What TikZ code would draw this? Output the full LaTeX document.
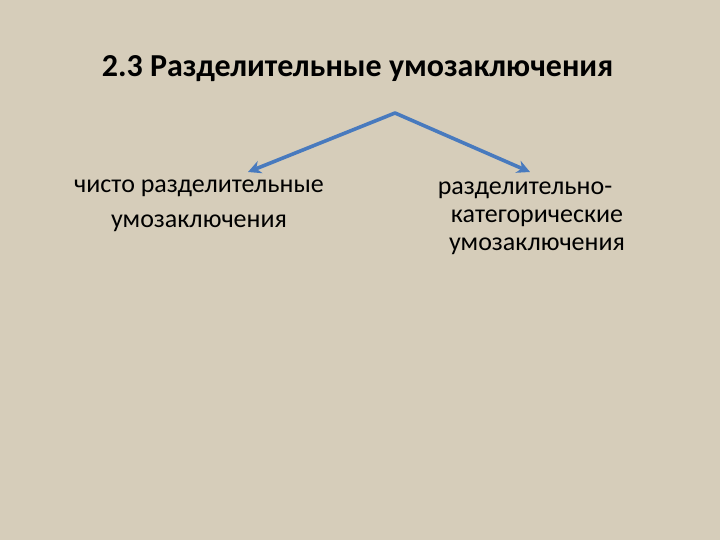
\documentclass[tikz,border=0pt]{standalone}
\usepackage{fontspec}
\setmainfont{Carlito}
\usetikzlibrary{arrows.meta}
\definecolor{canvas}{RGB}{214,205,186}
\definecolor{arrblue}{RGB}{72,122,190}

\begin{document}
\begin{tikzpicture}[x=1pt,y=-1pt,line join=round,line cap=round,>={Stealth[length=13pt,width=13pt]}]
		\fill[canvas] (0,0) rectangle (720,540);
		\useasboundingbox (0,0) rectangle (720,540);
		\node[font=\fontsize{32}{38}\selectfont\bfseries,anchor=base] (title) at (357.5,77) {2.3 Разделительные умозаключения};
		\node[font=\fontsize{26}{35}\selectfont,align=center] (pure) at (199,206) {чисто разделительные\\умозаключения};
		\node[font=\fontsize{26}{28}\selectfont,align=center] (categ) at (537,218) {разделительно-\hspace*{24pt}\\категорические\\умозаключения};
		\coordinate (apex) at (395,113);
		\coordinate (lend) at (248,172);
		\coordinate (rend) at (530,172);
		\draw[->,arrblue,line width=3.6pt] (apex)--(lend);
		\draw[->,arrblue,line width=3.6pt] (apex)--(rend);
	\end{tikzpicture}
\end{document}
